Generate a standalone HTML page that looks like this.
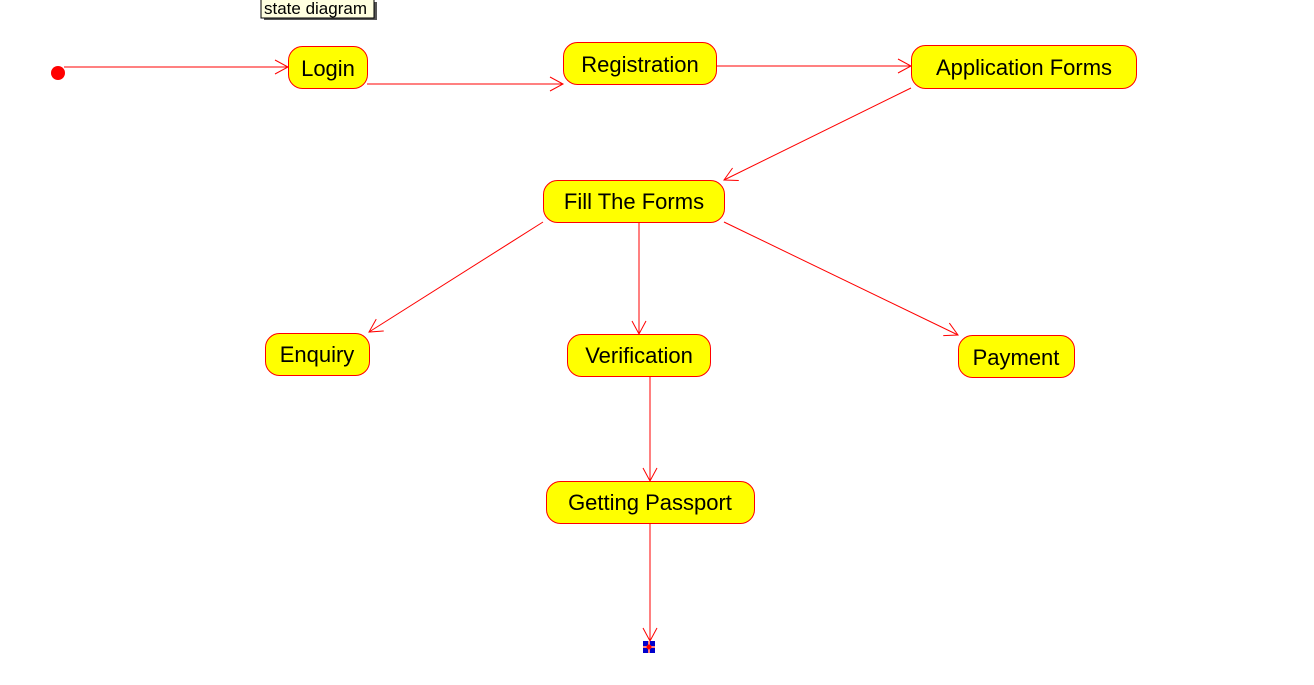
<!DOCTYPE html>
<html><head><meta charset="utf-8"><style>
html,body{margin:0;padding:0;background:#fff;width:1314px;height:685px;overflow:hidden}
text{font-family:"Liberation Sans",sans-serif;fill:#000}
</style></head><body>
<svg width="1314" height="685" xmlns="http://www.w3.org/2000/svg">
<defs>
<marker id="a" markerWidth="16" markerHeight="16" refX="14" refY="8" orient="auto" markerUnits="userSpaceOnUse">
<path d="M1,1 L14,8 L1,15" fill="none" stroke="#ff0000" stroke-width="1"/>
</marker>
</defs>
<rect x="264" y="2" width="113" height="18" fill="#555"/>
<rect x="261" y="-1" width="113" height="19" fill="#ffffe0" stroke="#000" stroke-width="1"/>
<text x="264" y="14" font-size="17">state diagram</text>
<circle cx="58" cy="73" r="7" fill="#ff0000"/>
<g stroke="#ff0000" stroke-width="1" fill="none" marker-end="url(#a)">
<path d="M64,67 H288"/>
<path d="M367,84 H563"/>
<path d="M716,66 H911"/>
<path d="M911,88 L724,180"/>
<path d="M543,222 L369,332"/>
<path d="M639,222 V334"/>
<path d="M724,222 L958,335"/>
<path d="M650,376 V481"/>
<path d="M650,523 V641"/>
</g>
<g fill="#ffff00" stroke="#ff0000" stroke-width="1">
<rect x="288.5" y="46.5" width="79" height="42" rx="14"/>
<rect x="563.5" y="42.5" width="153" height="42" rx="14"/>
<rect x="911.5" y="45.5" width="225" height="43" rx="14"/>
<rect x="543.5" y="180.5" width="181" height="42" rx="14"/>
<rect x="265.5" y="333.5" width="104" height="42" rx="14"/>
<rect x="567.5" y="334.5" width="143" height="42" rx="14"/>
<rect x="958.5" y="335.5" width="116" height="42" rx="14"/>
<rect x="546.5" y="481.5" width="208" height="42" rx="14"/>
</g>
<g font-size="22" text-anchor="middle">
<text x="328" y="76">Login</text>
<text x="640" y="72">Registration</text>
<text x="1024" y="75">Application Forms</text>
<text x="634" y="209">Fill The Forms</text>
<text x="317" y="362">Enquiry</text>
<text x="639" y="363">Verification</text>
<text x="1016" y="365">Payment</text>
<text x="650" y="510">Getting Passport</text>
</g>
<rect x="643" y="641" width="12" height="12" fill="#0000cc"/>
<path d="M649,641 V653 M643,647 H655" stroke="#ff8080" stroke-width="2"/>
<circle cx="649" cy="647" r="2.5" fill="#ff0000"/>
</svg>
</body></html>
